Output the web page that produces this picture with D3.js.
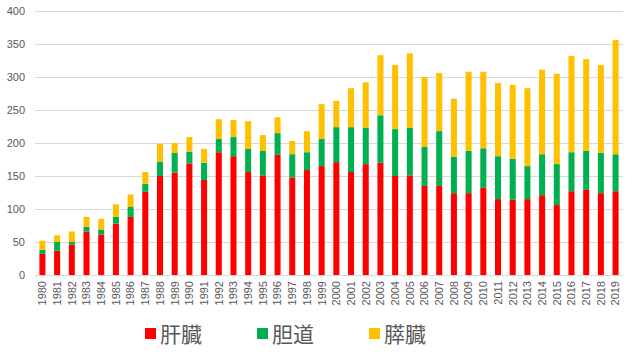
<!DOCTYPE html>
<html><head><meta charset="utf-8">
<script src="https://cdn.jsdelivr.net/npm/d3@7"></script>
<style>body{margin:0;background:#fff;}svg{display:block;}</style>
</head><body>
<svg id="c" width="634" height="355"></svg>
<script>
const years = d3.range(1980, 2020).map(String);
const seriesNames = ["肝臓", "胆道", "膵臓"];
const colors = ["#FF0000", "#00B050", "#FFC000"];
const liver = [32,37,46,66,61,78,88,126,150,155,169,144,186,180,156,151,182,148,159,165,171,156,168,170,150,151,135,135,124,124,132,115,114,115,121,106,127,129,124,127];
const biliary = [6,13,4,7,8,10,15,12,22,30,18,26,20,29,35,37,33,35,27,41,53,68,55,72,71,72,59,83,55,64,60,65,62,50,62,62,59,59,61,56];
const pancreas = [14,10,16,15,16,19,19,18,27,15,22,21,30,26,42,24,24,20,32,53,40,59,69,91,97,113,106,88,88,120,116,111,112,118,128,137,146,139,133,173];
const yTicks = [0,50,100,150,200,250,300,350,400];

const svg = d3.select("#c");
const m = {left:35, right:11, top:11, bottom:80};
const W = 634, H = 355;
const x = d3.scaleBand().domain(years).range([m.left, W - m.right]).paddingInner(0.59).paddingOuter(0.3);
const y = d3.scaleLinear().domain([0,400]).range([H - m.bottom, m.top]);

const data = years.map((yr,i)=>({year:yr, s0:liver[i], s1:biliary[i], s2:pancreas[i]}));
const stack = d3.stack().keys(["s0","s1","s2"])(data);

// gridlines
svg.append("g").selectAll("line").data(yTicks).join("line")
  .attr("x1", m.left).attr("x2", W - m.right)
  .attr("y1", d=>y(d)+0.5).attr("y2", d=>y(d)+0.5)
  .attr("stroke", "#d9d9d9").attr("stroke-width", 1);

// y axis labels
const ya = svg.append("g").attr("transform", `translate(${m.left},0)`)
  .call(d3.axisLeft(y).tickValues(yTicks).tickSize(0).tickPadding(10));
ya.select(".domain").remove();
ya.selectAll("text").attr("fill", "#595959").style("font-family", "'Liberation Sans', Arial, sans-serif").style("font-size", "11px");

// bars
svg.append("g").selectAll("g").data(stack).join("g")
  .attr("fill", (d,i)=>colors[i])
  .selectAll("rect").data(d=>d).join("rect")
  .attr("x", d=>x(d.data.year))
  .attr("width", x.bandwidth())
  .attr("y", d=>y(d[1]))
  .attr("height", d=>y(d[0]) - y(d[1]));

// x axis
const xa = svg.append("g").attr("transform", `translate(0,${H - m.bottom})`)
  .call(d3.axisBottom(x).tickSize(0).tickPadding(6));
xa.select(".domain").attr("stroke", "#d9d9d9");
xa.selectAll("text")
  .attr("fill", "#595959")
  .style("font-family", "'Liberation Sans', Arial, sans-serif").style("font-size", "11px")
  .attr("transform", "rotate(-90)")
  .attr("text-anchor", "end")
  .attr("x", -6).attr("y", 0).attr("dy", "0.35em");

// legend
const legX = [145, 257, 369];
const lg = svg.append("g");
seriesNames.forEach((n,i)=>{
  lg.append("rect").attr("x", legX[i]).attr("y", 328).attr("width", 11).attr("height", 11).attr("fill", colors[i]);
  lg.append("text").attr("x", legX[i] + 15).attr("y", 342).text(n)
    .attr("fill", "#595959")
    .style("font-family", "'Noto Sans CJK JP', sans-serif").style("font-size", "21px");
});
</script>
</body></html>
